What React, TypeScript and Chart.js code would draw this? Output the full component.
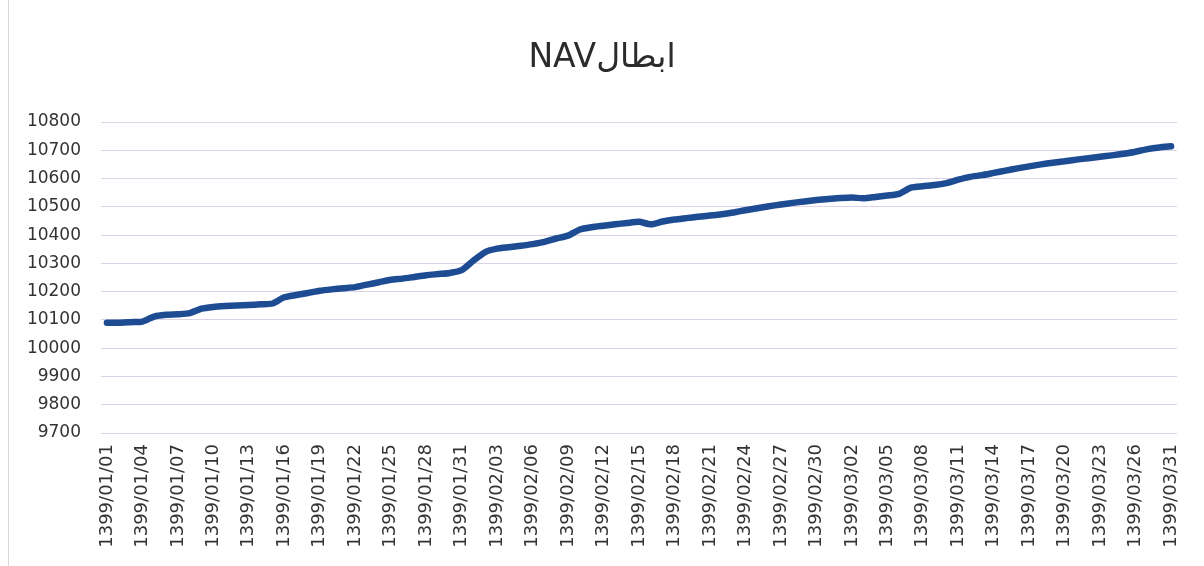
import { useEffect, useRef } from "react";
import { Chart, registerables } from "chart.js";

Chart.register(...registerables);

const chartTitle = "NAVابطال";

const dates: string[] = [
  "1399/01/01", "1399/01/02", "1399/01/03", "1399/01/04", "1399/01/05", "1399/01/06", "1399/01/07", "1399/01/08",
  "1399/01/09", "1399/01/10", "1399/01/11", "1399/01/12", "1399/01/13", "1399/01/14", "1399/01/15", "1399/01/16",
  "1399/01/17", "1399/01/18", "1399/01/19", "1399/01/20", "1399/01/21", "1399/01/22", "1399/01/23", "1399/01/24",
  "1399/01/25", "1399/01/26", "1399/01/27", "1399/01/28", "1399/01/29", "1399/01/30", "1399/01/31",
  "1399/02/01", "1399/02/02", "1399/02/03", "1399/02/04", "1399/02/05", "1399/02/06", "1399/02/07", "1399/02/08",
  "1399/02/09", "1399/02/10", "1399/02/11", "1399/02/12", "1399/02/13", "1399/02/14", "1399/02/15", "1399/02/16",
  "1399/02/17", "1399/02/18", "1399/02/19", "1399/02/20", "1399/02/21", "1399/02/22", "1399/02/23", "1399/02/24",
  "1399/02/25", "1399/02/26", "1399/02/27", "1399/02/28", "1399/02/29", "1399/02/30", "1399/02/31",
  "1399/03/01", "1399/03/02", "1399/03/03", "1399/03/04", "1399/03/05", "1399/03/06", "1399/03/07", "1399/03/08",
  "1399/03/09", "1399/03/10", "1399/03/11", "1399/03/12", "1399/03/13", "1399/03/14", "1399/03/15", "1399/03/16",
  "1399/03/17", "1399/03/18", "1399/03/19", "1399/03/20", "1399/03/21", "1399/03/22", "1399/03/23", "1399/03/24",
  "1399/03/25", "1399/03/26", "1399/03/27", "1399/03/30", "1399/03/31",
];

const navValues: number[] = [
  10090, 10090, 10092, 10094, 10112, 10118, 10120, 10124, 10140, 10146,
  10149, 10151, 10153, 10155, 10158, 10180, 10188, 10195, 10203, 10208,
  10212, 10216, 10225, 10233, 10242, 10246, 10252, 10258, 10262, 10266,
  10276, 10310, 10340, 10352, 10357, 10362, 10368, 10376, 10388, 10398,
  10420, 10428, 10433, 10438, 10443, 10447, 10438, 10448, 10455, 10460,
  10465, 10469, 10474, 10480, 10488, 10495, 10502, 10508, 10514, 10519,
  10524, 10528, 10531, 10533, 10530, 10535, 10540, 10546, 10568, 10573,
  10577, 10584, 10596, 10606, 10612, 10620, 10628, 10636, 10643, 10650,
  10656, 10661, 10667, 10672, 10677, 10682, 10688, 10695, 10704, 10710,
  10714,
];

const yMin = 9700;
const yMax = 10800;
const yStep = 100;
const labelEvery = 3;

export default function App() {
  const ref = useRef<HTMLCanvasElement>(null);

  useEffect(() => {
    const chart = new Chart(ref.current!, {
      type: "line",
      data: {
        labels: dates,
        datasets: [
          {
            data: navValues,
            borderColor: "#1e4c93",
            borderWidth: 6.5,
            pointRadius: 0,
            tension: 0.2,
            fill: false,
            borderCapStyle: "round",
            borderJoinStyle: "round",
          },
        ],
      },
      options: {
        animation: false,
        responsive: false,
        maintainAspectRatio: false,
        layout: { padding: 0 },
        plugins: {
          legend: { display: false },
          tooltip: { enabled: false },
          title: {
            display: true,
            text: chartTitle,
            color: "#2b2b2b",
            font: { family: "DejaVu Sans", size: 33, weight: "normal" },
            padding: { top: 39, bottom: 43.4 },
          },
        },
        scales: {
          x: {
            offset: true,
            grid: { display: false, drawTicks: false },
            border: { display: false },
            ticks: {
              autoSkip: false,
              maxRotation: 90,
              minRotation: 90,
              padding: 11,
              color: "#333333",
              font: { family: "DejaVu Sans", size: 18 },
              callback: (_v: any, i: number) => (i % labelEvery === 0 ? dates[i] : ""),
            },
            afterFit: (s: any) => {
              s.height = 133;
            },
          },
          y: {
            min: yMin,
            max: yMax,
            border: { display: false },
            grid: { color: "#ddd3e6", drawTicks: false, lineWidth: 1 },
            ticks: {
              stepSize: yStep,
              padding: 20,
              color: "#333333",
              font: { family: "DejaVu Sans", size: 17 },
              callback: (v: any) => String(v),
            },
            afterFit: (s: any) => {
              s.width = 101;
            },
          },
          yRight: {
            position: "right",
            min: yMin,
            max: yMax,
            display: true,
            border: { display: false },
            grid: { display: false, drawTicks: false },
            ticks: { display: false },
            afterFit: (s: any) => {
              s.width = 27;
            },
          },
        },
      },
    } as any);
    return () => chart.destroy();
  }, []);

  return (
    <div style={{ position: "fixed", left: 0, top: 0, width: 1204, height: 566, background: "#ffffff" }}>
      <canvas ref={ref} width={1204} height={566} style={{ display: "block" }} />
      <div style={{ position: "absolute", left: 8, top: 0, width: 1, height: 566, background: "#d8d8d8" }} />
    </div>
  );
}
